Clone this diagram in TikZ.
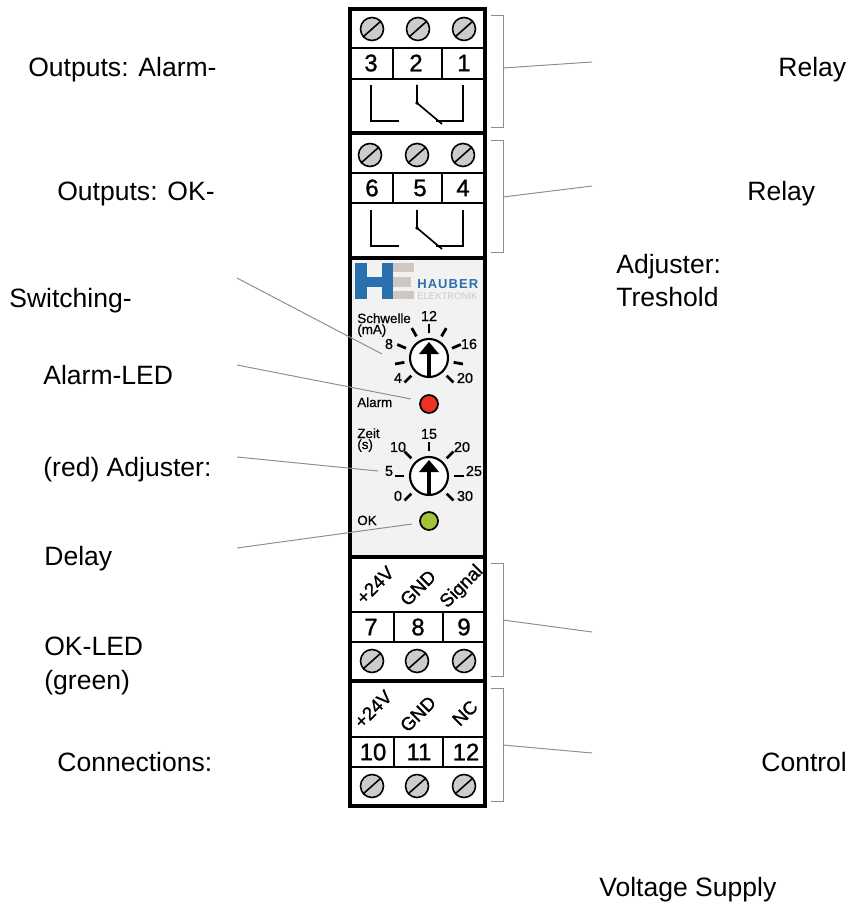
\documentclass[tikz,border=0pt]{standalone}
\usepackage{fontspec}
\setmainfont{Liberation Sans}
\newfontfamily\logofont[LetterSpace=8]{Liberation Sans}
\newfontfamily\heavyfont[FakeBold=1.2]{Liberation Sans}
\newfontfamily\mediumfont[FakeBold=0.6]{Liberation Sans}
\usepackage{xcolor}
\usepackage{tikz}
\usetikzlibrary{arrows.meta}
\definecolor{logoblue}{HTML}{2A70AE}
\definecolor{logogray}{HTML}{CFC8C2}
\definecolor{leadgray}{HTML}{8C8C8C}
\definecolor{ledred}{HTML}{EE3124}
\definecolor{ledgreen}{HTML}{A3C33A}
\tikzset{
  caption/.style={anchor=base west,inner sep=0pt,font=\fontsize{15.1}{18}\selectfont},
  termnum/.style={inner sep=0pt,font=\heavyfont\fontsize{13.6}{16}\selectfont},
  pinname/.style={inner sep=0pt,rotate=45,font=\heavyfont\fontsize{10.6}{13}\selectfont},
  dialnum/.style={inner sep=0pt,font=\mediumfont\fontsize{8.2}{10}\selectfont},
  panelname/.style={anchor=base west,inner sep=0pt,font=\mediumfont\fontsize{7.6}{8}\selectfont},
  leader/.style={leadgray,line width=0.55pt},
  frameline/.style={line width=2pt},
  thinline/.style={line width=0.9pt},
  relayline/.style={line width=0.95pt},
  tick/.style={line width=1.6pt}
}
\begin{document}
\begin{tikzpicture}[x=0.02cm,y=-0.02cm]
        \useasboundingbox (0,0) rectangle (848,905);

        % Front panel
        \fill[gray!10] (351,259) rectangle (484,556);

        % Logo
        \fill[logoblue] (355,263) rectangle (367,299);
        \fill[logoblue] (382,263) rectangle (393,299);
        \fill[logoblue] (367,277) rectangle (382,287);
        \fill[logogray] (393,263) rectangle (414,272);
        \fill[logogray] (393,277) rectangle (411,287);
        \fill[logogray] (393,291) rectangle (414,299);
        \node[anchor=base west,inner sep=0pt,logoblue,font=\logofont\bfseries\fontsize{7.4}{8}\selectfont] (hauber) at (417,289) {HAUBER};
        \node[anchor=base west,inner sep=0pt,logogray,font=\fontsize{5.4}{6}\selectfont] (elektronik) at (417,299) {ELEKTRONIK};

        % Housing
        \draw[frameline] (350,9) rectangle (485,806);
        \foreach \y in {133,258,557,681}
            \draw[frameline] (350,\y) -- (485,\y);

        % Terminal rows
        \foreach \ya/\yb/\xa/\xb in {48/79/393/442,173/203/393/442,612/642/394/443,737/767/394/443} {
            \draw[thinline] (350,\ya) -- (485,\ya);
            \draw[thinline] (350,\yb) -- (485,\yb);
            \draw[thinline] (\xa,\ya) -- (\xa,\yb);
            \draw[thinline] (\xb,\ya) -- (\xb,\yb);
        }

        % Screws
        \foreach \x/\y in {372/29,418/29,464/29,370/155,417/155,463/155,372/661,417/661,464/661,372/786,417/786,464/786} {
            \draw[thinline,fill=gray!40] (\x,\y) circle (11.5);
            \draw[thinline] (\x-9,\y+8) -- (\x+9,\y-8);
        }

        % Terminal numbers
        \node[termnum] (t3) at (371,63) {3};
        \node[termnum] (t2) at (416,63) {2};
        \node[termnum] (t1) at (464,63) {1};
        \node[termnum] (t6) at (372,188) {6};
        \node[termnum] (t5) at (420,188) {5};
        \node[termnum] (t4) at (463,188) {4};
        \node[termnum] (t7) at (371,627) {7};
        \node[termnum] (t8) at (418,627) {8};
        \node[termnum] (t9) at (464,627) {9};
        \node[termnum] (t10) at (373,752) {10};
        \node[termnum] (t11) at (419,752) {11};
        \node[termnum] (t12) at (466,752) {12};

        % Relay contacts
        \foreach \y in {0,125} {
            \draw[relayline] (371,85+\y) -- (371,121+\y) -- (399,121+\y);
            \draw[relayline] (417,85+\y) -- (417,103+\y) -- (442,124+\y);
            \fill (417,103+\y) circle (1.8);
            \draw[relayline] (436,121+\y) -- (463,121+\y) -- (463,85+\y);
        }

        % Pin names
        \node[pinname] (p1) at (375,585) {+24V};
        \node[pinname] (p2) at (418,588) {GND};
        \node[pinname] (p3) at (462,587) {Signal};
        \node[pinname] (p4) at (373,709) {+24V};
        \node[pinname] (p5) at (418,714) {GND};
        \node[pinname] (p6) at (465,713) {NC};

        % Dials
        \foreach \cy/\angs in {358/{90,60,120,23,157,-10,190,-45,225},476/{90,45,135,0,180,-45,225}} {
            \draw[line width=1.2pt,fill=white] (429,\cy) circle (19);
            \foreach \a in \angs
                \draw[tick] (429,\cy) ++({25*cos(\a)},{-25*sin(\a)}) -- ++({9.5*cos(\a)},{-9.5*sin(\a)});
            \draw[line width=2.4pt] (429,\cy+18) -- (429,\cy-6);
            \fill (429,\cy-16) -- (439,\cy-4) -- (419,\cy-4) -- cycle;
        }
        \node[dialnum] (d12) at (429,316) {12};
        \node[dialnum] (d8) at (389,344) {8};
        \node[dialnum] (d16) at (469,344) {16};
        \node[dialnum] (d4) at (398,378) {4};
        \node[dialnum] (d20) at (465,378) {20};
        \node[dialnum] (z15) at (429,434) {15};
        \node[dialnum] (z10) at (398,447) {10};
        \node[dialnum] (z20) at (462,447) {20};
        \node[dialnum] (z5) at (389,471) {5};
        \node[dialnum] (z25) at (474,471) {25};
        \node[dialnum] (z0) at (398,496) {0};
        \node[dialnum] (z30) at (465,496) {30};
        \node[panelname] (schwelle) at (357,323) {Schwelle};
        \node[panelname] (ma) at (357,334) {(mA)};
        \node[panelname] (zeit) at (357,438) {Zeit};
        \node[panelname] (sec) at (357,449) {(s)};
        \node[panelname] (alarm) at (357,407) {Alarm};
        \node[panelname] (ok) at (357,525) {OK};

        % LEDs
        \draw[line width=1pt,fill=ledred] (429,404) circle (9);
        \draw[line width=1pt,fill=ledgreen] (429,521) circle (9);

        % Brackets
        \foreach \ya/\yb in {15/127,140/252,563/676,688/801}
            \draw[leader] (491,\ya) -- (503,\ya) -- (503,\yb) -- (491,\yb);

        % Leader ends
        \coordinate (bA) at (503,68);  \coordinate (bAe) at (592,62);
        \coordinate (bB) at (503,197); \coordinate (bBe) at (592,186);
        \coordinate (bC) at (503,620); \coordinate (bCe) at (592,632);
        \coordinate (bD) at (503,745); \coordinate (bDe) at (592,753);
        \coordinate (lA) at (237,278); \coordinate (lAe) at (382,354);
        \coordinate (lB) at (237,365); \coordinate (lBe) at (411,399);
        \coordinate (lC) at (237,457); \coordinate (lCe) at (378,471);
        \coordinate (lD) at (237,548); \coordinate (lDe) at (412,524);
        \foreach \s/\e in {bA/bAe,bB/bBe,bC/bCe,bD/bDe,lA/lAe,lB/lBe,lC/lCe,lD/lDe}
            \draw[leader] (\s) -- (\e);

        % Captions
        \node[caption] (outalarm) at (28,77) {Outputs: Alarm-};
        \node[caption] (relayA) at (778,77) {Relay};
        \node[caption] (outok) at (57,201) {Outputs: OK-};
        \node[caption] (relayB) at (747,201) {Relay};
        \node[caption] (adjA) at (616,274) {Adjuster:};
        \node[caption] (tresh) at (616,306) {Treshold};
        \node[caption] (switching) at (9,307) {Switching-};
        \node[caption] (alarmled) at (43,384) {Alarm-LED};
        \node[caption] (redadj) at (43,476) {(red) Adjuster:};
        \node[caption] (delay) at (44,565) {Delay};
        \node[caption] (okled) at (44,655) {OK-LED};
        \node[caption] (green) at (44,689) {(green)};
        \node[caption] (conn) at (57,771) {Connections:};
        \node[caption] (control) at (761,771) {Control};
        \node[caption] (supply) at (599,896) {Voltage Supply};
    \end{tikzpicture}
\end{document}
